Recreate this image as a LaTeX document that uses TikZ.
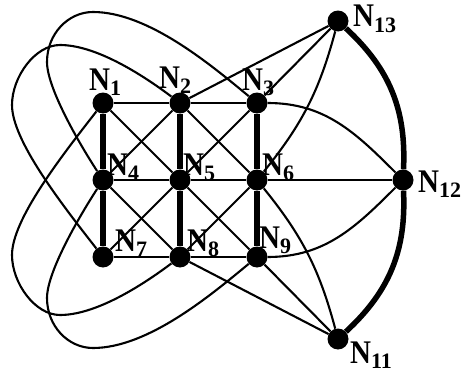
\documentclass[tikz,border=0pt]{standalone}
\usepackage{fontspec}
\newfontfamily\lfN[FakeStretch=0.88]{Liberation Serif}
\newfontfamily\lfD{Liberation Serif}
\newcommand{\NL}[1]{{\lfN\bfseries\fontsize{33}{33}\selectfont N}\raisebox{-5.5pt}{\lfD\bfseries\fontsize{22}{22}\selectfont #1}}
\begin{document}
\begin{tikzpicture}[x=1pt,y=1pt,
  dot/.style={circle,fill=black,inner sep=0pt,minimum size=21pt},
  edgethin/.style={line width=2.1pt},
  edgethick/.style={line width=5.5pt},
  lab/.style={inner sep=0pt,anchor=base west}]
\useasboundingbox (0,0) rectangle (464,-372);
% nodes
\node[dot] (n1) at (103,-103) {};
\node[dot] (n2) at (180,-103) {};
\node[dot] (n3) at (257,-103) {};
\node[dot] (n4) at (103,-180) {};
\node[dot] (n5) at (180,-180) {};
\node[dot] (n6) at (257,-180) {};
\node[dot] (n7) at (103,-257) {};
\node[dot] (n8) at (180,-257) {};
\node[dot] (n9) at (257,-257) {};
\node[dot] (n13) at (338,-21) {};
\node[dot] (n12) at (403,-180) {};
\node[dot] (n11) at (338,-339) {};
% grid horizontals
\draw[edgethin] (n1) -- (n2) -- (n3);
\draw[edgethin] (n4) -- (n5) -- (n6) -- (n12);
\draw[edgethin] (n7) -- (n8) -- (n9);
% verticals
\draw[edgethick] (n1) -- (n4) -- (n7);
\draw[edgethick] (n2) -- (n5) -- (n8);
\draw[edgethick] (n3) -- (n6) -- (n9);
% diagonals
\draw[edgethin] (n1) -- (n5) -- (n9);
\draw[edgethin] (n3) -- (n5) -- (n7);
\draw[edgethin] (n2) -- (n4) -- (n8) -- (n6) -- (n2);
% right side
\draw[edgethin] (n2) -- (n13);
\draw[edgethin] (n3) -- (n13);
\draw[edgethin] (n8) -- (n11);
\draw[edgethin] (n9) -- (n11);
\draw[edgethin] (n6) to[bend right=12] (n13);
\draw[edgethin] (n6) to[bend left=12] (n11);
\draw[edgethin] (n3) to[out=0,in=135] (n12);
\draw[edgethin] (n9) to[out=0,in=-135] (n12);
\draw[edgethick] (n13) to[bend left=25] (n12);
\draw[edgethick] (n12) to[bend left=25] (n11);
% left loops
\draw[edgethin] (n2) .. controls (140,-73) and (95,-45) .. (60,-45)
  .. controls (35,-45) and (12,-77) .. (12,-105)
  .. controls (12,-140) and (60,-202) .. (n7);
\draw[edgethin] (n8) .. controls (140,-287) and (95,-315) .. (60,-315)
  .. controls (35,-315) and (12,-283) .. (12,-255)
  .. controls (12,-220) and (60,-158) .. (n1);
\draw[edgethin] (n3) .. controls (211,-65) and (148,-12) .. (93,-12)
  .. controls (68,-12) and (47,-34) .. (47,-62)
  .. controls (47,-90) and (84,-151) .. (n4);
\draw[edgethin] (n9) .. controls (211,-295) and (148,-348) .. (93,-348)
  .. controls (68,-348) and (47,-326) .. (47,-298)
  .. controls (47,-270) and (84,-209) .. (n4);
% labels
\node[lab] (l1) at (89,-90) {\NL{1}};
\node[lab] (l2) at (159,-88) {\NL{2}};
\node[lab] (l3) at (242,-90) {\NL{3}};
\node[lab] (l4) at (107,-175) {\NL{4}};
\node[lab] (l5) at (183,-175) {\NL{5}};
\node[lab] (l6) at (262,-175) {\NL{6}};
\node[lab] (l7) at (115,-251) {\NL{7}};
\node[lab] (l8) at (187,-251) {\NL{8}};
\node[lab] (l9) at (259,-248) {\NL{9}};
\node[lab] (l13) at (353,-27) {\NL{13}};
\node[lab] (l12) at (418,-192) {\NL{12}};
\node[lab] (l11) at (350,-363) {\NL{11}};
\end{tikzpicture}
\end{document}
